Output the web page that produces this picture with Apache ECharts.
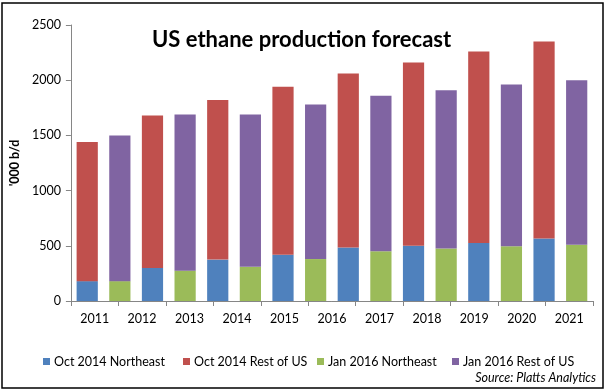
<!DOCTYPE html>
<html>
<head>
<meta charset="utf-8">
<script src="https://cdn.jsdelivr.net/npm/echarts@6/dist/echarts.min.js"></script>
<style>
html,body{margin:0;padding:0;background:#fff;}
#chart{width:606px;height:392px;}
</style>
</head>
<body>
<div id="chart"></div>
<script>
// Year tick labels on the x axis
const yearLabels = ['2011','2012','2013','2014','2015','2016','2017','2018','2019','2020','2021'];
// 16 evenly spaced bar slots (alternating Oct 2014 / Jan 2016 forecast bars)
const barSlots = ['s1','s2','s3','s4','s5','s6','s7','s8','s9','s10','s11','s12','s13','s14','s15','s16'];
// Series values ('000 b/d), null where the slot belongs to the other forecast
const oct2014Northeast = [180, null, 300, null, 375, null, 420, null, 485, null, 500, null, 525, null, 565, null];
const oct2014RestOfUS  = [1260, null, 1380, null, 1445, null, 1520, null, 1575, null, 1660, null, 1735, null, 1785, null];
const jan2016Northeast = [null, 180, null, 275, null, 310, null, 380, null, 450, null, 475, null, 495, null, 510];
const jan2016RestOfUS  = [null, 1320, null, 1415, null, 1380, null, 1400, null, 1410, null, 1435, null, 1465, null, 1490];
const yTicks = {min: 0, max: 2500, interval: 500};

const seriesNames = ['Oct 2014 Northeast','Oct 2014 Rest of US','Jan 2016 Northeast','Jan 2016 Rest of US'];
const seriesData = [oct2014Northeast, oct2014RestOfUS, jan2016Northeast, jan2016RestOfUS];
const colors = ['#4F81BD','#C0504D','#9BBB59','#8064A2'];
const FONT = 'Lato';
const legendLeft = [38, 178, 312, 447];

const chart = echarts.init(document.getElementById('chart'), null, {renderer: 'canvas'});
chart.setOption({
  animation: false,
  backgroundColor: '#fff',
  color: colors,
  textStyle: {fontFamily: FONT},
  title: {
    text: 'US ethane production forecast',
    left: 147, top: 24,
    textStyle: {fontFamily: FONT, fontWeight: 'bold', fontSize: 22, color: '#000'}
  },
  legend: seriesNames.map((n, i) => ({
    data: [n],
    left: legendLeft[i], top: 350,
    icon: 'rect', itemWidth: 7, itemHeight: 7, itemGap: 4,
    textStyle: {fontFamily: FONT, fontSize: 12.5, color: '#000', padding: [0,0,0,-1]},
    selectedMode: false
  })),
  grid: {left: 67, right: 13, top: 25, bottom: 91, containLabel: false},
  xAxis: [
    {type: 'category', data: barSlots, show: false, position: 'top', boundaryGap: true},
    {type: 'category', data: yearLabels, position: 'bottom', boundaryGap: true,
     axisLine: {show: true, lineStyle: {color: '#868686', width: 1}},
     axisTick: {show: true, inside: false, length: 5, alignWithLabel: false, interval: 0, lineStyle: {color: '#868686'}},
     axisLabel: {interval: 0, color: '#000', fontSize: 12.5, fontFamily: FONT, margin: 11},
     splitLine: {show: false}}
  ],
  yAxis: {
    type: 'value', min: yTicks.min, max: yTicks.max, interval: yTicks.interval,
    name: "'000 b/d", nameLocation: 'middle', nameRotate: 90, nameGap: 47,
    nameTextStyle: {fontFamily: FONT, fontWeight: 'bold', fontSize: 12.5, color: '#000'},
    axisLine: {show: true, lineStyle: {color: '#868686', width: 1}},
    axisTick: {show: true, inside: false, length: 5, lineStyle: {color: '#868686'}},
    axisLabel: {color: '#000', fontSize: 12.5, fontFamily: FONT, margin: 10, formatter: v => String(v)},
    splitLine: {show: false}
  },
  series: seriesNames.map((n, i) => ({
    name: n, type: 'bar', stack: 'total', xAxisIndex: 0,
    barWidth: '65%', data: seriesData[i],
    itemStyle: {color: colors[i]}
  })),
  graphic: [
    {type: 'rect', shape: {x: 2, y: 3, width: 601, height: 385},
     style: {fill: 'none', stroke: '#000', lineWidth: 1.5}, z: 100},
    {type: 'text', right: 10, top: 371,
     style: {text: 'Source: Platts Analytics', fontFamily: FONT, fontStyle: 'italic', fontSize: 12.5, fill: '#000'}}
  ]
});
</script>
</body>
</html>
